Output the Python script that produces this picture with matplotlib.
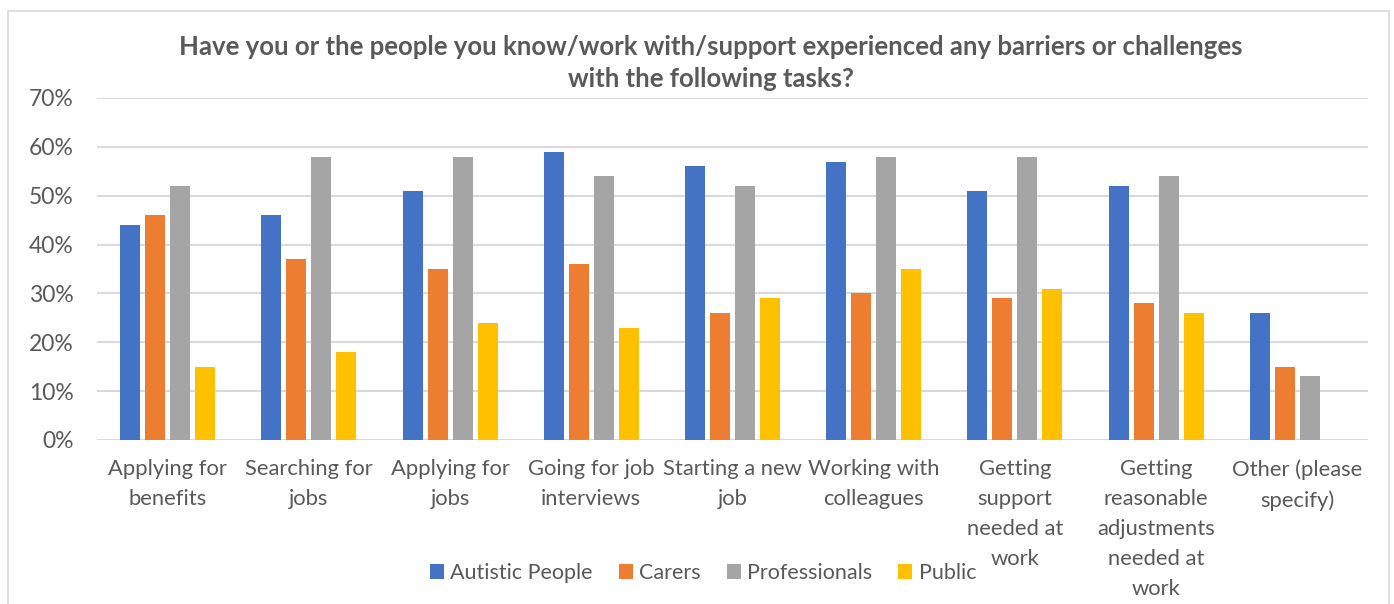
import numpy as np
import matplotlib
matplotlib.use('Agg')
import matplotlib.pyplot as plt
from matplotlib.patches import Rectangle

plt.rcParams['font.family'] = ['Lato', 'DejaVu Sans']

# データ
categories = ["Applying for\nbenefits", "Searching for\njobs", "Applying for\njobs",
              "Going for job\ninterviews", "Starting a new\njob", "Working with\ncolleagues",
              "Getting\nsupport\nneeded at\nwork", "Getting\nreasonable\nadjustments\nneeded at\nwork",
              "Other (please\nspecify)"]
autistic = [44, 46, 51, 59, 56, 57, 51, 52, 26]
carers = [46, 37, 35, 36, 26, 30, 29, 28, 15]
professionals = [52, 58, 58, 54, 52, 58, 58, 54, 13]
public = [15, 18, 24, 23, 29, 35, 31, 26, 0]

series = [("Autistic People", autistic, "#4472C4"),
          ("Carers", carers, "#ED7D31"),
          ("Professionals", professionals, "#A5A5A5"),
          ("Public", public, "#FFC000")]

W, H = 1394, 604
fig = plt.figure(figsize=(W / 100, H / 100), dpi=100)
ax = fig.add_axes([97 / W, 1 - 440 / H, (1368 - 97) / W, (440 - 98) / H])

# 外枠
fig.patches.append(Rectangle((8 / W, -0.05), (1389 - 8) / W, 1 - 11 / H + 0.05,
                             transform=fig.transFigure, fill=False,
                             edgecolor="#d9d9d9", linewidth=1.2))

x = np.arange(len(categories))
width = 0.142
step = 0.177
handles = []
for i, (name, vals, color) in enumerate(series):
    b = ax.bar(x + (i - 1.5) * step, np.array(vals) / 100, width=width, color=color,
               label=name, zorder=3)
    handles.append(b)

ax.set_xlim(-0.5, len(categories) - 0.5)
ax.set_ylim(0, 0.7)
ax.set_yticks(np.arange(0, 0.71, 0.1))
ax.set_yticklabels([f"{int(v)}%" for v in np.arange(0, 71, 10)])
ax.yaxis.grid(True, color="#d9d9d9", linewidth=1.5, zorder=0)
ax.set_axisbelow(True)
for s in ax.spines.values():
    s.set_visible(False)
ax.tick_params(axis='y', length=0, pad=17, labelsize=16.5, labelcolor="#595959")
ax.tick_params(axis='x', length=0, pad=14, labelsize=15.8, labelcolor="#595959")
ax.set_xticks(x)
ax.set_xticklabels(categories, linespacing=1.62, va='top')

fig.text(0.51, 1 - 63 / H,
         "Have you or the people you know/work with/support experienced any barriers or challenges\nwith the following tasks?",
         ha='center', va='center', fontsize=18.5, fontweight='bold', color="#595959",
         linespacing=1.4)

fig.legend(handles=handles, loc='center', bbox_to_anchor=(703 / W, 1 - 573 / H),
           ncol=4, frameon=False, fontsize=15.5, handlelength=0.65, handleheight=0.65,
           handletextpad=0.3, columnspacing=1.2, labelcolor="#595959")

plt.savefig("out.png", dpi=100)
plt.close(fig)
